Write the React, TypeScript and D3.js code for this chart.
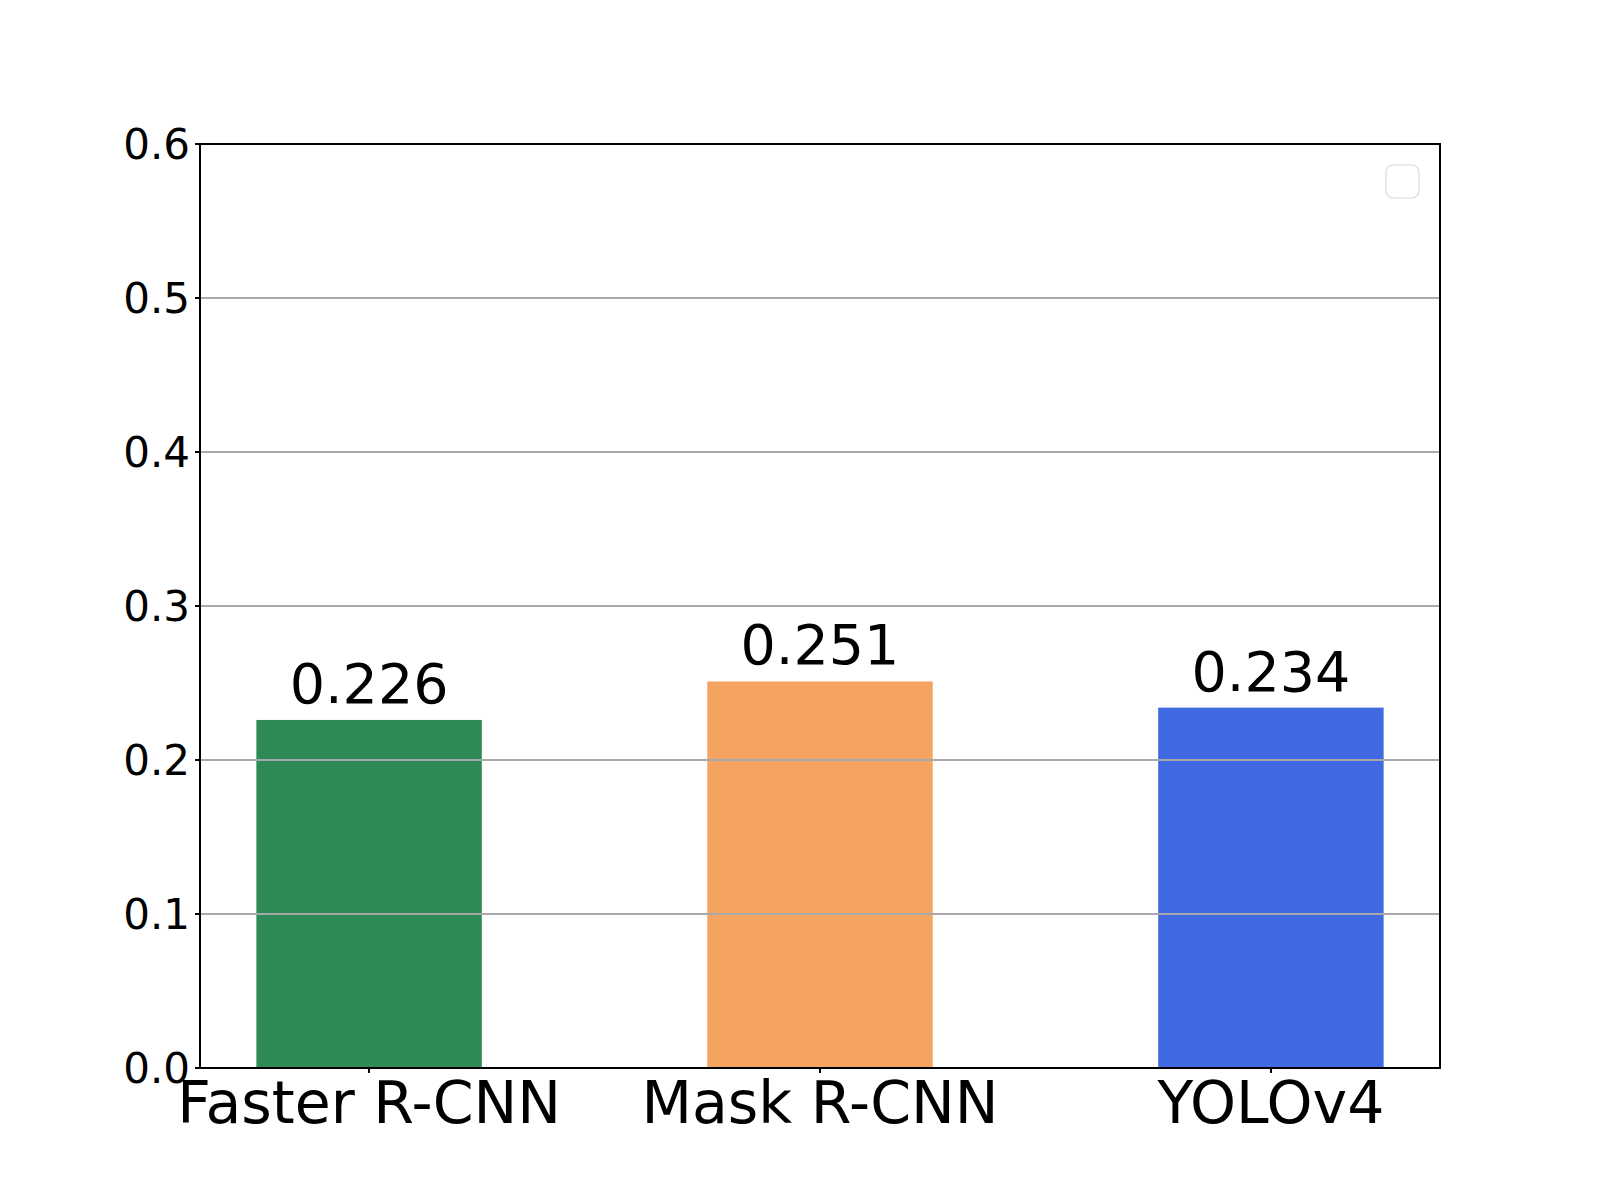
import React from 'react';
import * as d3 from 'd3';

const models = ['Faster R-CNN', 'Mask R-CNN', 'YOLOv4'];
const scores = [0.226, 0.251, 0.234];
const barColors = ['#2e8b57', '#f4a460', '#4169e1'];
const yTicks = [0, 0.1, 0.2, 0.3, 0.4, 0.5, 0.6];

const W = 1600;
const H = 1200;
const margin = { top: 144, right: 160, bottom: 132, left: 200 };
const font = 'DejaVu Sans, sans-serif';

export default function App() {
  const w = W - margin.left - margin.right;
  const h = H - margin.top - margin.bottom;
  const barWidth = 0.5;

  // matplotlib style categorical axis: positions 0..n-1 with 5% margins
  const x = d3.scaleLinear()
    .domain([-0.375, models.length - 1 + 0.375])
    .range([0, w]);
  const y = d3.scaleLinear().domain([0, 0.6]).range([h, 0]);
  const bw = x(barWidth) - x(0);

  return (
    <svg width={W} height={H} style={{ display: 'block', position: 'absolute', left: 0, top: 0 }}>
      <rect width={W} height={H} fill="#fff" />
      <g transform={`translate(${margin.left},${margin.top})`} fontFamily={font}>
        {scores.map((v, i) => (
          <rect key={models[i]} x={x(i) - bw / 2} y={y(v)} width={bw} height={h - y(v)} fill={barColors[i]} />
        ))}
        {yTicks.map(t => (
          <g key={t}>
            {t > 0 && t < 0.6 && (
              <line x1={0} x2={w} y1={y(t)} y2={y(t)} stroke="#a8a8a8" strokeWidth={1.2} shapeRendering="crispEdges" />
            )}
            <line x1={-5} x2={0} y1={y(t)} y2={y(t)} stroke="#000" strokeWidth={1.2} shapeRendering="crispEdges" />
            <text x={-10} y={y(t)} dy="0.36em" textAnchor="end" fontSize={42} fill="#000">
              {t.toFixed(1)}
            </text>
          </g>
        ))}
        {models.map((m, i) => (
          <g key={m}>
            <line x1={x(i)} x2={x(i)} y1={h} y2={h + 5} stroke="#000" strokeWidth={1.2} shapeRendering="crispEdges" />
            <text x={x(i)} y={h + 55} textAnchor="middle" fontSize={58.5} fill="#000">{m}</text>
          </g>
        ))}
        {scores.map((v, i) => (
          <text key={'l' + i} x={x(i)} y={y(v) - 17} textAnchor="middle" fontSize={55.5} fill="#000">
            {v.toFixed(3)}
          </text>
        ))}
        <rect x={0} y={0} width={w} height={h} fill="none" stroke="#000" strokeWidth={1.2} shapeRendering="crispEdges" />
        <rect x={w - 54} y={21} width={33} height={33} rx={7} fill="#fff" stroke="#d6d6d6" strokeWidth={1.1} />
      </g>
    </svg>
  );
}
